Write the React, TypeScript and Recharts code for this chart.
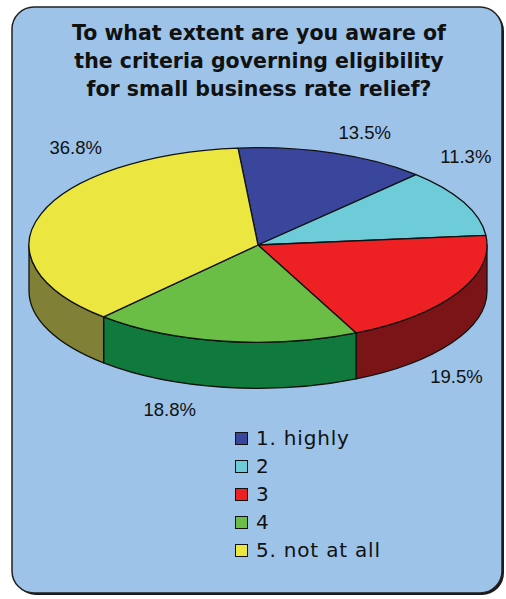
import React from "react";
import { PieChart, Pie, Legend } from "recharts";

// ── Data ─────────────────────────────────────────────────────────────

const categories = ["1. highly", "2", "3", "4", "5. not at all"];
const shares = [13.5, 11.3, 19.5, 18.8, 36.8];
const titleLines = [
  "To what extent are you aware of",
  "the criteria governing eligibility",
  "for small business rate relief?",
];

// ── Styling ──────────────────────────────────────────────────────────

const topColors = ["#3A459C", "#6ECCD9", "#ED2024", "#6ABD45", "#ECE740"];
const sideColors = ["#1E2660", "#3B8A95", "#7A1416", "#107A3D", "#808036"];
const BG = "#9DC3E8";
const SQUASH = 0.425; // ry / rx of the tilted pie
const DEPTH = 46;
// small hand nudges so labels sit where the original put them
const labelNudge: [number, number][] = [
  [21, 0],
  [-25, -36],
  [-27, 27],
  [-50, 0],
  [63, -59],
];

const data = categories.map((name, i) => ({ name, value: shares[i] }));
const RAD = Math.PI / 180;

// ── 3D slice (drawn from the sector geometry Recharts computes) ───────

function renderSlice(props: any) {
  const { cx, cy, outerRadius, startAngle, endAngle, midAngle, index } = props;
  const rx = outerRadius;
  const ry = outerRadius * SQUASH;
  const px = (a: number) => cx + rx * Math.cos(a * RAD);
  const py = (a: number) => cy - ry * Math.sin(a * RAD);
  const hi = Math.max(startAngle, endAngle);
  const lo = Math.min(startAngle, endAngle);

  const large = hi - lo > 180 ? 1 : 0;
  const top = `M${cx},${cy} L${px(hi)},${py(hi)} A${rx},${ry} 0 ${large} 1 ${px(lo)},${py(lo)} Z`;

  // front wall: part of the slice in the lower half (-180..0)
  let side: string | null = null;
  const a1 = Math.min(hi, 0);
  const a2 = Math.max(lo, -180);
  if (a1 > a2) {
    side =
      `M${px(a1)},${py(a1)} A${rx},${ry} 0 0 1 ${px(a2)},${py(a2)} ` +
      `L${px(a2)},${py(a2) + DEPTH} A${rx},${ry} 0 0 0 ${px(a1)},${py(a1) + DEPTH} Z`;
  }

  const s = Math.sin(midAngle * RAD);
  const lx = cx + (rx + 30) * Math.cos(midAngle * RAD) + labelNudge[index][0];
  const ly = cy - (ry + 22) * s + (s < 0 ? DEPTH : 0) + labelNudge[index][1];

  return (
    <g key={`slice-${index}`}>
      {side && (
        <path d={side} fill={sideColors[index]} stroke="#111" strokeWidth={1.3} strokeLinejoin="round" />
      )}
      <path d={top} fill={topColors[index]} stroke="#111" strokeWidth={1.3} strokeLinejoin="round" />
      <text
        x={lx}
        y={ly}
        textAnchor="middle"
        dominantBaseline="central"
        fontFamily="'Liberation Sans', Arial, sans-serif"
        fontSize={18.5}
        fill="#111"
      >
        {`${shares[index].toFixed(1)}%`}
      </text>
    </g>
  );
}

// ── Legend ───────────────────────────────────────────────────────────

function renderLegend() {
  return (
    <div>
      {categories.map((c, i) => (
        <div key={c} style={{ display: "flex", alignItems: "center", height: 28 }}>
          <span
            style={{
              width: 11,
              height: 11,
              background: topColors[i],
              border: "1.5px solid #111",
              marginRight: 8,
            }}
          />
          <span
            style={{
              fontFamily: "'DejaVu Sans', Verdana, sans-serif",
              fontSize: 20,
              letterSpacing: 0.8,
              color: "#111",
              lineHeight: "28px",
            }}
          >
            {c}
          </span>
        </div>
      ))}
    </div>
  );
}

// ── Component ────────────────────────────────────────────────────────

export default function App() {
  return (
    <div style={{ position: "absolute", left: 0, top: 0, width: 506, height: 599 }}>
      <svg width={506} height={599} style={{ position: "absolute", left: 0, top: 0 }}>
        <rect x={14} y={9} width={490} height={586} rx={22} fill="#1a1a1a" />
        <rect x={12} y={7} width={490} height={586} rx={22} fill={BG} stroke="#222" strokeWidth={1.5} />
        {titleLines.map((t, i) => (
          <text
            key={t}
            x={259}
            y={40 + i * 28}
            textAnchor="middle"
            fontFamily="'DejaVu Sans', Verdana, sans-serif"
            fontWeight="bold"
            fontSize={20.5}
            fill="#111"
          >
            {t}
          </text>
        ))}
      </svg>
      <div style={{ position: "absolute", left: 0, top: 0 }}>
        <PieChart width={506} height={599} margin={{ top: 0, right: 0, bottom: 0, left: 0 }}>
          <Pie
            data={data}
            dataKey="value"
            nameKey="name"
            cx={258}
            cy={245}
            outerRadius={229}
            startAngle={95}
            endAngle={-265}
            fill="transparent"
            stroke="none"
            label={renderSlice}
            labelLine={false}
            isAnimationActive={false}
          />
          <Legend
            content={renderLegend}
            wrapperStyle={{ position: "absolute", left: 235, top: 424, width: 220, bottom: "auto" }}
          />
        </PieChart>
      </div>
    </div>
  );
}
